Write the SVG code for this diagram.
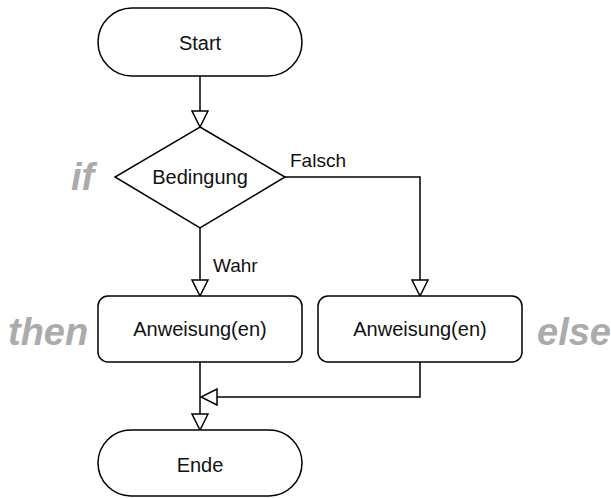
<svg xmlns="http://www.w3.org/2000/svg" width="611" height="498" viewBox="0 0 611 498">
<defs>
<style>
.n{fill:#fff;stroke:#000;stroke-width:1.5}
.c{fill:none;stroke:#000;stroke-width:1.5}
.t{font-family:"Liberation Sans",Arial,sans-serif;font-size:20px;fill:#111;text-anchor:middle;dominant-baseline:central}
.l{font-family:"Liberation Sans",Arial,sans-serif;font-size:19px;fill:#111}
.k{font-family:"Liberation Sans",Arial,sans-serif;font-size:38px;font-weight:bold;font-style:italic;fill:#ababab}
</style>
<marker id="a" markerUnits="userSpaceOnUse" markerWidth="18" markerHeight="18" viewBox="0 0 18 18" refX="17" refY="9" orient="auto">
<path d="M1,1 L17,9 L1,17 Z" fill="#fff" stroke="#000" stroke-width="1.5"/>
</marker>
</defs>
<g id="connectors">
<path class="c" d="M200,76 V127" marker-end="url(#a)"/>
<path class="c" d="M200,228 V296" marker-end="url(#a)"/>
<path class="c" d="M285,177 H420 V296" marker-end="url(#a)"/>
<path class="c" d="M200,362 V430" marker-end="url(#a)"/>
<path class="c" d="M420,362 V397 H201" marker-end="url(#a)"/>
<text class="l" x="290" y="167">Falsch</text>
<text class="l" x="213" y="272">Wahr</text>
</g>
<g id="start"><rect class="n" x="98" y="8" width="204" height="68" rx="34"/><text class="t" x="200" y="43">Start</text></g>
<g id="bedingung"><path class="n" d="M200,127 L285,177 L200,228 L115,177 Z"/><text class="t" x="200" y="177">Bedingung</text></g>
<g id="then"><rect class="n" x="98" y="296" width="204" height="66" rx="10"/><text class="t" x="200" y="329">Anweisung(en)</text></g>
<g id="else"><rect class="n" x="318" y="296" width="204" height="66" rx="10"/><text class="t" x="420" y="329">Anweisung(en)</text></g>
<g id="ende"><rect class="n" x="98" y="430" width="204" height="66" rx="33"/><text class="t" x="200" y="465">Ende</text></g>
<g id="keywords">
<text class="k" x="71" y="190">if</text>
<text class="k" x="8" y="345">then</text>
<text class="k" x="537" y="345">else</text>
</g>
</svg>
